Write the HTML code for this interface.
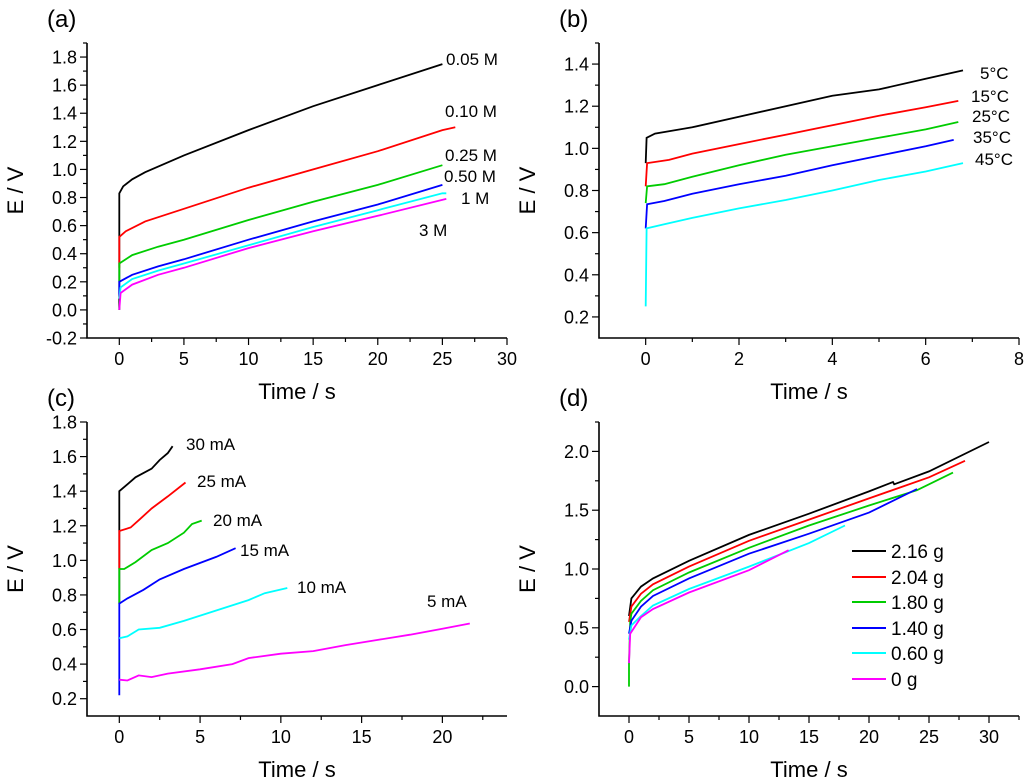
<!DOCTYPE html>
<html><head><meta charset="utf-8"><style>
body{margin:0;background:#fff}
svg{display:block;font-family:"Liberation Sans",Arial,sans-serif}
</style></head><body>
<svg id="fig" width="1024" height="780" viewBox="0 0 1024 780"></svg>
<script>
const NS="http://www.w3.org/2000/svg";
const svg=document.getElementById('fig');
// ---- data: panel a ----
const aNames=["0.05 M","0.10 M","0.25 M","0.50 M","1 M","3 M"];
const aT05=[0,0,0.3,1,2,5,10,15,20,25];const aE05=[0,0.83,0.88,0.93,0.98,1.1,1.28,1.45,1.6,1.75];
const aT10=[0,0,0.5,2,5,10,15,20,25,26];const aE10=[0.3,0.52,0.56,0.63,0.72,0.87,1.0,1.13,1.28,1.3];
const aT25=[0,0,1,3,5,10,15,20,25];const aE25=[0.2,0.33,0.39,0.45,0.5,0.64,0.77,0.89,1.03];
const aT50=[0,0,1,3,5,10,15,20,25];const aE50=[0.1,0.2,0.25,0.31,0.36,0.5,0.63,0.75,0.89];
const aT1=[0,0.1,1,3,5,10,15,20,25,25.3];const aE1=[0.08,0.16,0.22,0.28,0.33,0.46,0.59,0.71,0.83,0.83];
const aT3=[0,0.1,1,3,5,10,15,20,25.3];const aE3=[0,0.12,0.18,0.25,0.3,0.44,0.56,0.67,0.79];
// ---- panel b ----
const bNames=["5°C","15°C","25°C","35°C","45°C"];
const bT5=[0,0.02,0.2,1,2,3,4,5,6,6.8];const bE5=[0.93,1.05,1.07,1.1,1.15,1.2,1.25,1.28,1.33,1.37];
const bT15=[0,0.03,0.5,1,2,3,4,5,6,6.7];const bE15=[0.82,0.93,0.945,0.975,1.02,1.065,1.11,1.155,1.195,1.225];
const bT25=[0,0.03,0.4,1,2,3,4,5,6,6.7];const bE25=[0.74,0.82,0.83,0.865,0.92,0.97,1.01,1.05,1.09,1.125];
const bT35=[0,0.03,0.4,1,2,3,4,5,6,6.6];const bE35=[0.62,0.735,0.75,0.785,0.83,0.87,0.92,0.965,1.01,1.04];
const bT45=[0,0.02,0.4,1,2,3,4,5,6,6.8];const bE45=[0.25,0.62,0.64,0.67,0.715,0.755,0.8,0.85,0.89,0.93];
// ---- panel c ----
const cNames=["30 mA","25 mA","20 mA","15 mA","10 mA","5 mA"];
const cT30=[0,0,0.5,1,2,2.5,3,3.3];const cE30=[0.75,1.4,1.44,1.48,1.53,1.58,1.62,1.66];
const cT25=[0,0,0.7,1.3,2,3,4.1];const cE25=[0.95,1.17,1.19,1.24,1.3,1.37,1.45];
const cT20=[0,0,0.3,1,2,3,4,4.5,5.1];const cE20=[0.75,0.95,0.95,0.99,1.06,1.1,1.16,1.21,1.23];
const cT15=[0,0,0.5,1.5,2.5,4,6,7.2];const cE15=[0.22,0.75,0.78,0.83,0.89,0.95,1.02,1.07];
const cT10=[0,0.5,1.2,2.5,4,6,8,9,10.4];const cE10=[0.55,0.56,0.6,0.61,0.65,0.71,0.77,0.81,0.84];
const cT5=[0,0.5,1.2,2,3,5,7,8,10,12,14,16,18,20,21.7];const cE5=[0.31,0.305,0.335,0.325,0.345,0.37,0.4,0.435,0.46,0.475,0.51,0.54,0.57,0.605,0.635];
// ---- panel d ----
const dNames=["2.16 g","2.04 g","1.80 g","1.40 g","0.60 g","0 g"];
const dT216=[0,0.2,1,2,5,10,15,20,22,22.1,25,30];const dE216=[0.6,0.75,0.85,0.92,1.07,1.29,1.47,1.66,1.74,1.72,1.83,2.08];
const dT204=[0,0.2,1,2,5,10,15,20,25,28];const dE204=[0.55,0.68,0.79,0.87,1.02,1.24,1.42,1.6,1.78,1.92];
const dT180=[0,0,0.1,0.2,1,2,5,10,15,20,24,27];const dE180=[0,0.2,0.55,0.62,0.73,0.82,0.97,1.18,1.37,1.54,1.67,1.82];
const dT140=[0,0.2,1,2,5,10,15,20,24];const dE140=[0.45,0.56,0.68,0.77,0.92,1.13,1.3,1.48,1.68];
const dT060=[0,0.2,1,2,5,10,15,18];const dE060=[0.4,0.52,0.6,0.69,0.83,1.02,1.22,1.37];
const dT0=[0,0.1,1,2,5,10,13.3];const dE0=[0.2,0.45,0.59,0.66,0.8,0.99,1.16];

const COLORS=["#000","#f00","#0c0","#00f","#0ff","#f0f"];
function el(tag,attrs,parent){const e=document.createElementNS(NS,tag);for(const k in attrs)e.setAttribute(k,attrs[k]);(parent||svg).appendChild(e);return e;}
function txt(s,x,y,size,anchor,parent){const t=el('text',{x:x,y:y,'font-size':size,'text-anchor':anchor||'start',fill:'#000'},parent);t.textContent=s;return t;}

function panel(cfg){
  const g=el('g',{});
  
  
  const X=v=>cfg.px0+(v-cfg.x0)/(cfg.x1-cfg.x0)*(cfg.px1-cfg.px0);
  const Y=v=>cfg.py0-(v-cfg.y0)/(cfg.y1-cfg.y0)*(cfg.py0-cfg.py1);
  const ax=el('path',{d:`M${cfg.px0},${cfg.py1}V${cfg.py0}H${cfg.px1}`,stroke:'#000','stroke-width':1.6,fill:'none'},g);
  
  
  for(let v=cfg.ymin;v<=cfg.y1+1e-9;v+=cfg.ystep/2){
    const major=Math.abs(Math.round((v-cfg.ymin)/cfg.ystep*2)%2)===0;
    const y=Y(v);
    el('line',{x1:cfg.px0-(major?7:4),x2:cfg.px0,y1:y,y2:y,stroke:'#000','stroke-width':1.2},g);
    if(major){const t=txt(v.toFixed(cfg.ydec),cfg.px0-10,y+6.5,18,'end',g);
      
      }
  }
  for(let v=cfg.xmin;v<=cfg.x1+1e-9;v+=cfg.xstep/2){
    const major=Math.abs(Math.round((v-cfg.xmin)/cfg.xstep*2)%2)===0;
    const x=X(v);
    el('line',{x1:x,x2:x,y1:cfg.py0,y2:cfg.py0+(major?7:4),stroke:'#000','stroke-width':1.2},g);
    if(major){const t=txt(String(v),x,cfg.py0+27,18,'middle',g);
      
      }
  }
  const yt=txt('E / V',0,0,22,'middle',g);
  yt.setAttribute('transform',`translate(${cfg.px0-64},${(cfg.py0+cfg.py1)/2}) rotate(-90)`);
  
  
  const xt=txt('Time / s',(cfg.px0+cfg.px1)/2,cfg.py0+61,22,'middle',g);
  
  
  const pl=txt(cfg.label,cfg.px0-40,cfg.py1-16,24,'start',g);
  
  
  cfg.series.forEach((s,i)=>{
    const d=s[0].map((t,j)=>(j?'L':'M')+X(t).toFixed(1)+','+Y(s[1][j]).toFixed(1)).join('');
    const p=el('path',{d:d,stroke:COLORS[i],'stroke-width':1.8,fill:'none'},g);
    
    
  });
  (cfg.labels||[]).forEach((l,i)=>{const t=txt(cfg.names[i],l[0],l[1],17,'start',g);
    
    });
  return g;
}
panel({id:'panel-a',label:'(a)',px0:87,px1:507,py0:338,py1:43,x0:-2.5,x1:30,y0:-0.2,y1:1.9,xmin:0,xstep:5,ymin:-0.2,ystep:0.2,ydec:1,
 names:aNames,series:[[aT05,aE05],[aT10,aE10],[aT25,aE25],[aT50,aE50],[aT1,aE1],[aT3,aE3]],
 labels:[[446,65],[445,117],[445,161],[444,182],[461,204],[419,236]]});
panel({id:'panel-b',label:'(b)',px0:599,px1:1019,py0:338,py1:43,x0:-1,x1:8,y0:0.1,y1:1.5,xmin:0,xstep:2,ymin:0.2,ystep:0.2,ydec:1,
 names:bNames,series:[[bT5,bE5],[bT15,bE15],[bT25,bE25],[bT35,bE35],[bT45,bE45]],
 labels:[[980,79],[971,102],[972,122],[973,143],[975,165]]});
panel({id:'panel-c',label:'(c)',px0:87,px1:507,py0:716,py1:422,x0:-2,x1:24,y0:0.1,y1:1.8,xmin:0,xstep:5,ymin:0.2,ystep:0.2,ydec:1,
 names:cNames,series:[[cT30,cE30],[cT25,cE25],[cT20,cE20],[cT15,cE15],[cT10,cE10],[cT5,cE5]],
 labels:[[186,450],[197,487],[213,526],[240,556],[297,593],[427,607]]});
panel({id:'panel-d',label:'(d)',px0:599,px1:1019,py0:716,py1:422,x0:-2.5,x1:32.5,y0:-0.25,y1:2.25,xmin:0,xstep:5,ymin:0,ystep:0.5,ydec:1,
 names:dNames,series:[[dT216,dE216],[dT204,dE204],[dT180,dE180],[dT140,dE140],[dT060,dE060],[dT0,dE0]]});
const legY=[551,577,602,628,653,679];
dNames.forEach((n,i)=>{
  const g=el('g',{});
  
  
  el('line',{x1:852,x2:886,y1:legY[i],y2:legY[i],stroke:COLORS[i],'stroke-width':2},g);
  txt(n,891,legY[i]+7,19,'start',g);
});
</script>
</body></html>
